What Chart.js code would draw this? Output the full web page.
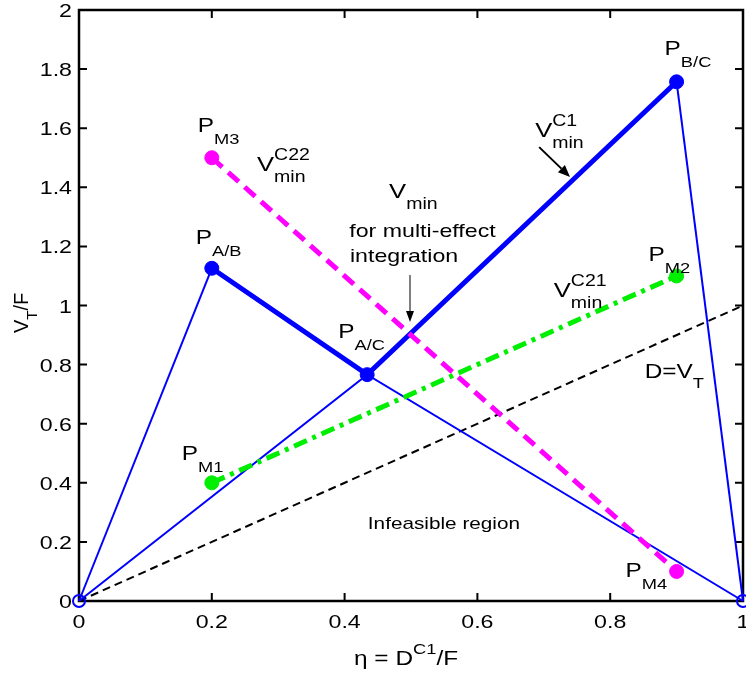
<!DOCTYPE html>
<html>
<head>
<meta charset="utf-8">
<script src="https://cdn.jsdelivr.net/npm/chart.js@4.4.1/dist/chart.umd.min.js"></script>
<style>
  html, body { margin: 0; padding: 0; background: #fff; }
  canvas { display: block; }
</style>
</head>
<body>
<canvas id="chart" width="746" height="675"></canvas>
<script>
// -- Data -----------------------------------------------------------------

// Vmin polyline: P_A/B, P_A/C, P_B/C
const vminX = [0.2, 0.434, 0.9];
const vminY = [1.126, 0.766, 1.757];

// thin boundary lines (origin -> P_A/B, origin -> P_A/C -> 1, P_B/C -> 1)
const edgeAX = [0, 0.2];
const edgeAY = [0, 1.126];
const edgeBX = [0, 0.434, 1];
const edgeBY = [0, 0.766, 0];
const edgeCX = [0.9, 1];
const edgeCY = [1.757, 0];

// V_min^C21 : P_M1 -> P_M2
const c21X = [0.2, 0.9];
const c21Y = [0.4, 1.1];

// V_min^C22 : P_M3 -> P_M4
const c22X = [0.2, 0.9];
const c22Y = [1.5, 0.1];

// D = V_T
const diagX = [0, 1];
const diagY = [0, 1];

// open end points
const endX = [0, 1];
const endY = [0, 0];

const xTicks = [0, 0.2, 0.4, 0.6, 0.8, 1];
const yTicks = [0, 0.2, 0.4, 0.6, 0.8, 1, 1.2, 1.4, 1.6, 1.8, 2];

// -- Helpers --------------------------------------------------------------

const FONT = '"Liberation Sans", Arial, Helvetica, sans-serif';
const SX = 1.22; // horizontal stretch of the original figure text

const pts = (xs, ys) => xs.map((x, i) => ({ x, y: ys[i] }));

function piece(ctx, x, y, s, size, align) {
  ctx.font = size + 'px ' + FONT;
  const w = ctx.measureText(s).width * SX;
  let x0 = x;
  if (align === 'center') x0 = x - w / 2;
  if (align === 'right') x0 = x - w;
  ctx.save();
  ctx.translate(x0, y);
  ctx.scale(SX, 1);
  ctx.textAlign = 'left';
  ctx.textBaseline = 'alphabetic';
  ctx.fillText(s, 0, 0);
  ctx.restore();
  return w;
}

// "P" with subscript
function pLabel(ctx, x, y, sub) {
  const w = piece(ctx, x, y, 'P', 20);
  piece(ctx, x + w, y + 12, sub, 15);
}

// "V" with superscript and "min" subscript
function vLabel(ctx, x, y, sup) {
  const w = piece(ctx, x, y, 'V', 21);
  if (sup) piece(ctx, x + w, y - 11, sup, 16);
  piece(ctx, x + w, y + 11, 'min', 16);
}

function arrow(ctx, x1, y1, x2, y2, lw, head, hw) {
  const a = Math.atan2(y2 - y1, x2 - x1);
  const bx = x2 - head * Math.cos(a);
  const by = y2 - head * Math.sin(a);
  ctx.save();
  ctx.strokeStyle = '#000';
  ctx.fillStyle = '#000';
  ctx.lineWidth = lw;
  ctx.beginPath();
  ctx.moveTo(x1, y1);
  ctx.lineTo(bx, by);
  ctx.stroke();
  ctx.beginPath();
  ctx.moveTo(x2, y2);
  ctx.lineTo(bx + hw * Math.sin(a), by - hw * Math.cos(a));
  ctx.lineTo(bx - hw * Math.sin(a), by + hw * Math.cos(a));
  ctx.closePath();
  ctx.fill();
  ctx.restore();
}

// -- Frame, ticks, labels -------------------------------------------------

const framePlugin = {
  id: 'frame',
  beforeDatasetsDraw(chart) {
    const { ctx, chartArea: a } = chart;
    const sx = chart.scales.x;
    const sy = chart.scales.y;
    ctx.save();
    ctx.strokeStyle = '#000';
    ctx.lineWidth = 2;
    ctx.beginPath();
    xTicks.forEach((v) => {
      const p = sx.getPixelForValue(v);
      ctx.moveTo(p, a.bottom); ctx.lineTo(p, a.bottom - 8);
      ctx.moveTo(p, a.top); ctx.lineTo(p, a.top + 8);
    });
    yTicks.forEach((v) => {
      const p = sy.getPixelForValue(v);
      ctx.moveTo(a.left, p); ctx.lineTo(a.left + 8, p);
      ctx.moveTo(a.right, p); ctx.lineTo(a.right - 8, p);
    });
    ctx.stroke();
    ctx.lineWidth = 2.5;
    ctx.strokeRect(a.left, a.top, a.right - a.left, a.bottom - a.top);

    ctx.fillStyle = '#000';
    xTicks.forEach((v) => {
      piece(ctx, sx.getPixelForValue(v), a.bottom + 27, String(v), 19, 'center');
    });
    yTicks.forEach((v) => {
      piece(ctx, a.left - 7, sy.getPixelForValue(v) + 7, String(v), 19, 'right');
    });

    // x title: eta = D^C1/F
    let x = 354;
    const yb = a.bottom + 64;
    x += piece(ctx, x, yb, '\u03b7 = D', 20);
    x += piece(ctx, x, yb - 11, 'C1', 15);
    piece(ctx, x, yb, '/F', 20);

    // y title: V_T/F rotated
    ctx.save();
    ctx.translate(28, 333);
    ctx.rotate(-Math.PI / 2);
    ctx.font = '20px ' + FONT;
    ctx.textBaseline = 'alphabetic';
    ctx.fillText('V', 0, 0);
    let w = ctx.measureText('V').width;
    ctx.font = '15px ' + FONT;
    ctx.fillText('T', w, 9);
    w += ctx.measureText('T').width;
    ctx.font = '20px ' + FONT;
    ctx.fillText('/F', w, 0);
    ctx.restore();
    ctx.restore();
  },
  afterDatasetsDraw(chart) {
    const { ctx } = chart;
    const sx = chart.scales.x;
    const sy = chart.scales.y;
    const X = (v) => sx.getPixelForValue(v);
    const Y = (v) => sy.getPixelForValue(v);
    ctx.save();
    ctx.fillStyle = '#000';

    pLabel(ctx, X(vminX[0]) - 16, Y(vminY[0]) - 24, 'A/B');
    pLabel(ctx, X(vminX[1]) - 29, Y(vminY[1]) - 37, 'A/C');
    pLabel(ctx, X(vminX[2]) - 12, Y(vminY[2]) - 27, 'B/C');
    pLabel(ctx, X(c21X[0]) - 30, Y(c21Y[0]) - 23, 'M1');
    pLabel(ctx, X(c21X[1]) - 28, Y(c21Y[1]) - 15, 'M2');
    pLabel(ctx, X(c22X[0]) - 14, Y(c22Y[0]) - 26, 'M3');
    pLabel(ctx, X(c22X[1]) - 51, Y(c22Y[1]) + 6, 'M4');

    vLabel(ctx, X(0.687), Y(1.570), 'C1');
    vLabel(ctx, X(0.268), Y(1.455), 'C22');
    vLabel(ctx, X(0.715), Y(1.029), 'C21');
    vLabel(ctx, X(0.467), Y(1.364), null);
    piece(ctx, X(0.407), Y(1.232), 'for multi-effect', 19);
    piece(ctx, X(0.408), Y(1.147), 'integration', 19);

    const dw = piece(ctx, X(0.852), Y(0.755), 'D=V', 20);
    piece(ctx, X(0.852) + dw, Y(0.755) + 10, 'T', 15);

    piece(ctx, X(0.435), Y(0.244), 'Infeasible region', 17);

    arrow(ctx, X(0.693), Y(1.536), X(0.7395), Y(1.435), 2, 12, 5);
    arrow(ctx, X(0.4985), Y(1.103), X(0.4985), Y(0.944), 1, 11, 4);
    ctx.restore();
  },
};

// -- Chart ----------------------------------------------------------------

const BLUE = '#0000ff';
const GREEN = '#00ee00';
const MAGENTA = '#ff00ff';

const lineSet = (data, color, width, dash, radius) => ({
  data,
  showLine: true,
  borderColor: color,
  backgroundColor: color,
  borderWidth: width,
  borderDash: dash || [],
  pointRadius: radius || 0,
  pointBorderWidth: 1,
  pointBackgroundColor: color,
  pointBorderColor: color,
  clip: false,
});

new Chart(document.getElementById('chart'), {
  type: 'scatter',
  data: {
    datasets: [
      // first dataset is drawn on top
      lineSet(pts(c22X, c22Y), MAGENTA, 5, [14, 8], 7),
      lineSet(pts(c21X, c21Y), GREEN, 5, [14, 6, 4, 6], 7),
      {
        data: pts(endX, endY),
        showLine: false,
        pointRadius: 6,
        pointBorderWidth: 2,
        pointBorderColor: BLUE,
        pointBackgroundColor: 'rgba(255,255,255,0)',
        clip: false,
      },
      lineSet(pts(vminX, vminY), BLUE, 5, null, 7),
      lineSet(pts(edgeAX, edgeAY), BLUE, 2),
      lineSet(pts(edgeBX, edgeBY), BLUE, 2),
      lineSet(pts(edgeCX, edgeCY), BLUE, 2),
      lineSet(pts(diagX, diagY), '#000', 2, [8, 5]),
    ],
  },
  options: {
    responsive: false,
    animation: false,
    devicePixelRatio: 1,
    layout: { autoPadding: false, padding: { top: 10, right: 3, left: 0, bottom: 0 } },
    plugins: {
      legend: { display: false },
      tooltip: { enabled: false },
    },
    scales: {
      x: {
        type: 'linear',
        min: 0,
        max: 1,
        ticks: { display: false, stepSize: 0.2 },
        grid: { display: false },
        border: { display: false },
        afterFit: (s) => { s.height = 74; },
      },
      y: {
        type: 'linear',
        min: 0,
        max: 2,
        ticks: { display: false, stepSize: 0.2 },
        grid: { display: false },
        border: { display: false },
        afterFit: (s) => { s.width = 79; },
      },
    },
  },
  plugins: [framePlugin],
});
</script>
</body>
</html>
